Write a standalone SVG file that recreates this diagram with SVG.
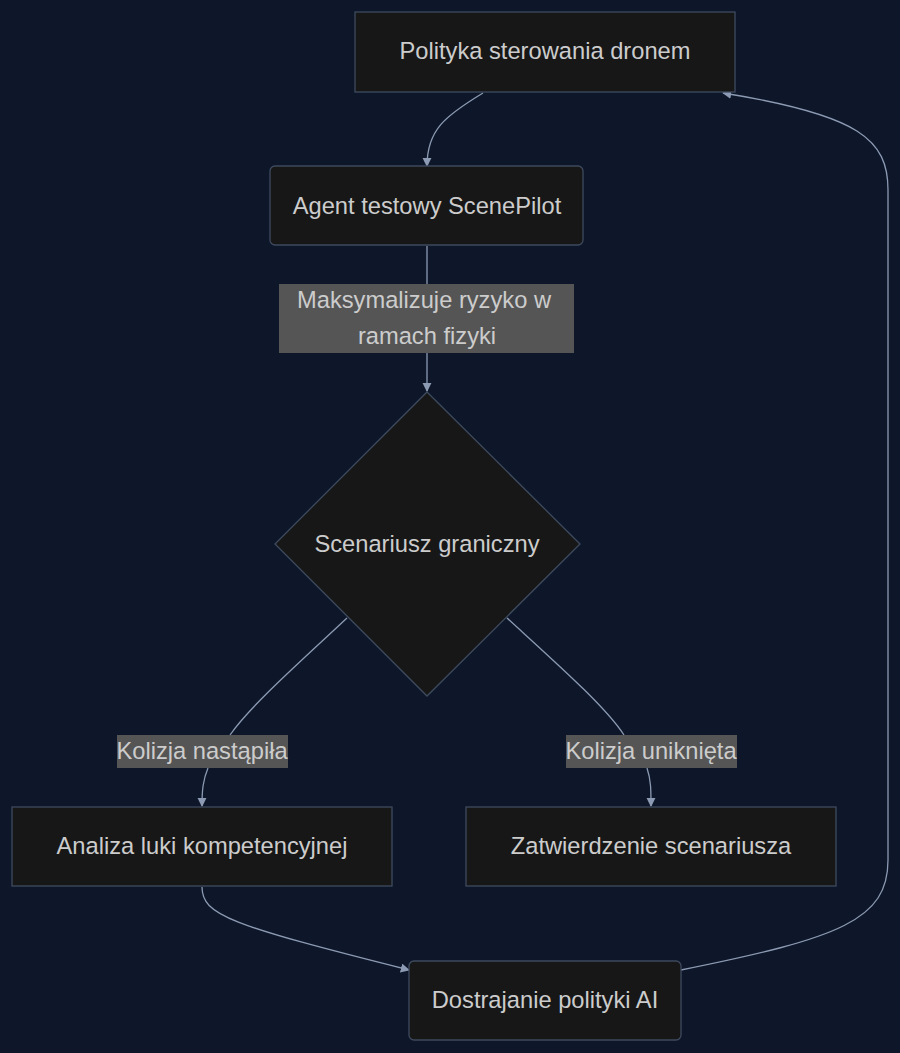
<svg xmlns="http://www.w3.org/2000/svg" width="900" height="1053" viewBox="0 0 900 1053">
<defs>
<style>
.n{fill:#171717;stroke:#3e4a5e;stroke-width:1.3}
.t{font-family:"Liberation Sans",Arial,sans-serif;font-size:23.7px;fill:#cccccc;text-anchor:middle;dominant-baseline:central}
.lb{fill:#555555}
.e{fill:none;stroke:#8c9ab3;stroke-width:1.3}
</style>
<marker id="a" viewBox="0 0 10 10" refX="9" refY="5" markerWidth="7" markerHeight="7" orient="auto"><path d="M0,0L10,5L0,10z" fill="#8c9ab3"/></marker>
</defs>
<rect width="900" height="1053" fill="#0e1729"/>
<g id="connectors">
<path class="e" d="M483,93 C445,116 427,130 427,166" marker-end="url(#a)"/>
<path class="e" d="M427,246 L427,391" marker-end="url(#a)"/>
<path class="e" d="M347,618 C300,662 250,706 230,735 M208,768 C203,780 202,790 202,806" marker-end="url(#a)"/>
<path class="e" d="M507,618 C555,662 605,706 624,735 M647,768 C651,780 651,790 651,806" marker-end="url(#a)"/>
<path class="e" d="M202,887 C202,915 230,925 409,970" marker-end="url(#a)"/>
<path class="e" d="M681,970 C840,938 888,920 888,860 L888,190 C888,140 860,115 723,93" marker-end="url(#a)"/>
</g>
<g id="n1"><rect class="n" x="355" y="12" width="380" height="80"/><text class="t" x="545" y="51">Polityka sterowania dronem</text></g>
<g id="n2"><rect class="n" x="270" y="166" width="313" height="79" rx="5"/><text class="t" x="427" y="206">Agent testowy ScenePilot</text></g>
<g id="l1"><rect class="lb" x="279" y="284" width="295" height="69"/><text class="t" x="424" y="300">Maksymalizuje ryzyko w</text><text class="t" x="427" y="336">ramach fizyki</text></g>
<g id="n3"><polygon class="n" points="427,392 580,544 427,696 275,544"/><text class="t" x="427" y="544">Scenariusz graniczny</text></g>
<g id="l2"><rect class="lb" x="117" y="735" width="171" height="33"/><text class="t" x="202" y="751">Kolizja nastąpiła</text></g>
<g id="l3"><rect class="lb" x="566" y="735" width="171" height="33"/><text class="t" x="651" y="751">Kolizja uniknięta</text></g>
<g id="n4"><rect class="n" x="12" y="807" width="380" height="79"/><text class="t" x="202" y="846">Analiza luki kompetencyjnej</text></g>
<g id="n5"><rect class="n" x="466" y="807" width="370" height="79"/><text class="t" x="651" y="846">Zatwierdzenie scenariusza</text></g>
<g id="n6"><rect class="n" x="409" y="961" width="272" height="79" rx="5"/><text class="t" x="545" y="1000">Dostrajanie polityki AI</text></g>
</svg>
